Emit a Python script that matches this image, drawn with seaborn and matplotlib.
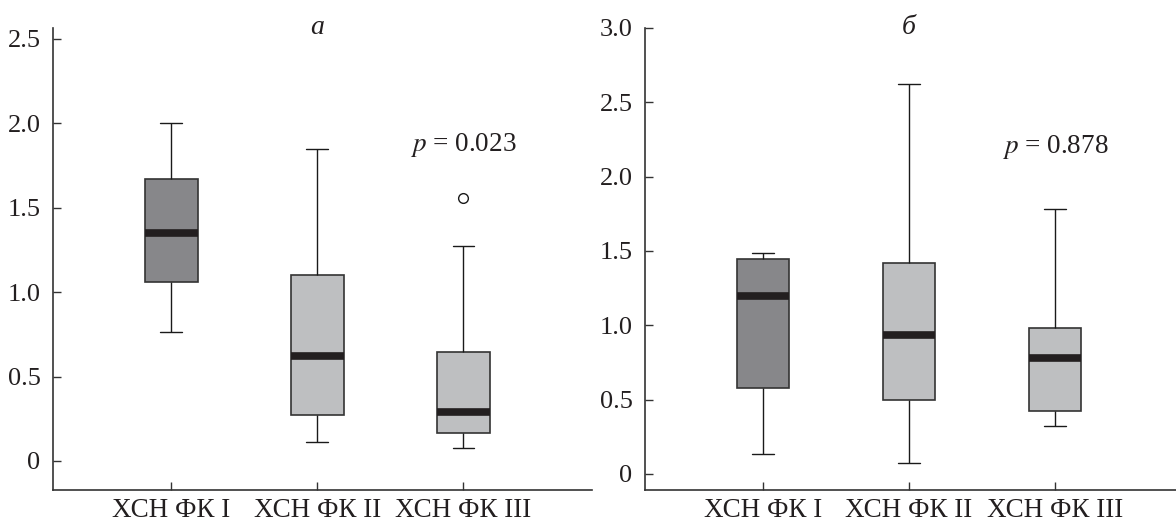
import pandas as pd
import matplotlib
matplotlib.use('Agg')
import matplotlib.pyplot as plt
import seaborn as sns
from matplotlib.ticker import FuncFormatter

# --- style ---
sns.set_style('ticks')
plt.rcParams['font.family'] = ['Liberation Serif', 'DejaVu Serif']
plt.rcParams['font.size'] = 18
plt.rcParams['axes.unicode_minus'] = False

# --- data (readings of box summaries: whisker low, Q1, median, Q3, whisker high) ---
groups = ['ХСН ФК I', 'ХСН ФК II', 'ХСН ФК III']

a_fk1 = [0.765, 1.06, 1.35, 1.67, 2.00]
a_fk2 = [0.11, 0.27, 0.62, 1.10, 1.85]
# 9 observations so that the quartiles sit on 0.166 / 0.29 / 0.646, plus one outlier
a_fk3 = [0.077, 0.12, 0.166, 0.23, 0.29, 0.45, 0.646, 1.275, 1.558]

b_fk1 = [0.134, 0.578, 1.196, 1.445, 1.485]
b_fk2 = [0.074, 0.497, 0.934, 1.418, 2.62]
b_fk3 = [0.323, 0.423, 0.78, 0.981, 1.78]

p_values = ['0.023', '0.878']
panel_titles = ['а', 'б']


def long_table(series):
    rows = []
    for g, vals in zip(groups, series):
        rows += [(g, v) for v in vals]
    return pd.DataFrame(rows, columns=['group', 'value'])


df_a = long_table([a_fk1, a_fk2, a_fk3])
df_b = long_table([b_fk1, b_fk2, b_fk3])

box_colors = {'ХСН ФК I': '#86878b', 'ХСН ФК II': '#bebfc1', 'ХСН ФК III': '#bebfc1'}

fig = plt.figure(figsize=(11.76, 5.23), dpi=100)
ax_a = fig.add_axes([0.0451, 0.0631, 0.4583, 0.8834])
ax_b = fig.add_axes([0.5485, 0.0631, 0.4515, 0.8834])


def draw_panel(ax, df, ylim, xlim, yticks, title, pval, p_y):
    sns.boxplot(
        data=df, x='group', y='value', hue='group', order=groups,
        palette=box_colors, legend=False, width=0.36, whis=1.5, ax=ax,
        linewidth=1.0, capwidths=0.15,
        boxprops=dict(edgecolor='#333333', linewidth=1.2),
        whiskerprops=dict(color='#1a1a1a', linewidth=1.0),
        capprops=dict(color='#1a1a1a', linewidth=1.0),
        medianprops=dict(color='#231f20', linewidth=5.5, solid_capstyle='butt'),
        flierprops=dict(marker='o', markerfacecolor='white',
                        markeredgecolor='#1a1a1a', markersize=7,
                        markeredgewidth=1.0),
    )
    ax.set_ylim(*ylim)
    ax.set_xlim(*xlim)
    ax.set_yticks(yticks)
    ax.yaxis.set_major_formatter(
        FuncFormatter(lambda v, _: '0' if abs(v) < 1e-9 else f'{v:.1f}'))
    ax.set_xlabel('')
    ax.set_ylabel('')
    sns.despine(ax=ax)
    for s in ('left', 'bottom'):
        ax.spines[s].set_color('#333333')
        ax.spines[s].set_linewidth(1.2)
    ax.tick_params(axis='both', direction='in', length=6, width=1.0,
                   color='#333333', labelcolor='#231f20')
    ax.tick_params(axis='y', pad=9, labelsize=19)
    ax.tick_params(axis='x', pad=6, labelsize=19.5)
    ax.text(1, 1.0, title, transform=ax.get_xaxis_transform(),
            ha='center', va='center', fontsize=20, style='italic', color='#231f20')
    ax.text(2, p_y, f'$p$ = {pval}', ha='center', va='center', fontsize=19.5,
            color='#231f20', math_fontfamily='stix')


draw_panel(ax_a, df_a, (-0.172, 2.565), (-0.81, 2.88),
           [0, 0.5, 1.0, 1.5, 2.0, 2.5], panel_titles[0], p_values[0], 1.87)
draw_panel(ax_b, df_b, (-0.108, 3.0), (-0.81, 2.83),
           [0, 0.5, 1.0, 1.5, 2.0, 2.5, 3.0], panel_titles[1], p_values[1], 2.20)

fig.savefig('out.png', dpi=100)
